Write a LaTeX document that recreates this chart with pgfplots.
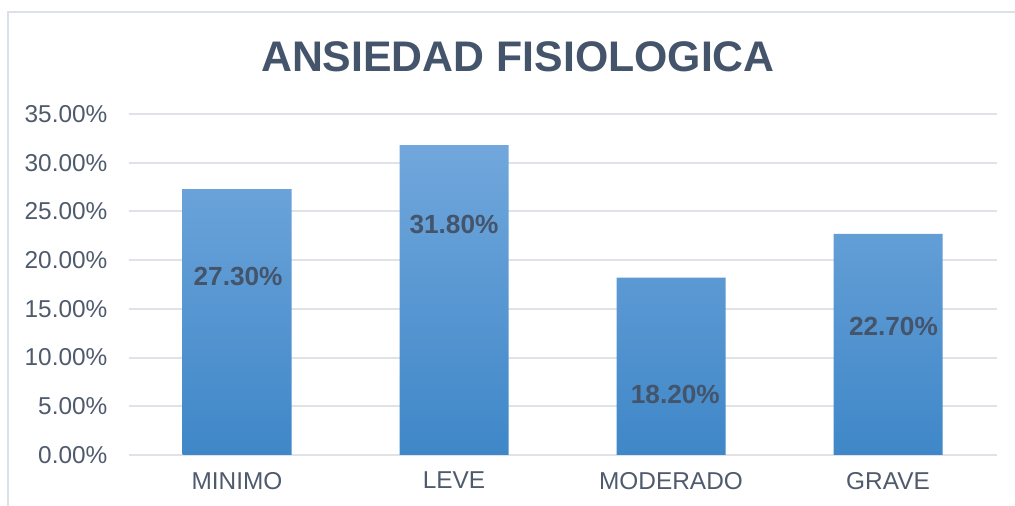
\documentclass[border=0pt]{standalone}
\usepackage{fontspec}
\setmainfont{Liberation Sans}
\usepackage{pgfplots}
\pgfplotsset{compat=1.18}
\definecolor{titlec}{HTML}{44546A}
\definecolor{tickc}{HTML}{4F5B6D}
\definecolor{gridc}{HTML}{DFE3E8}
\definecolor{frame}{HTML}{DCE1E7}
\definecolor{bartop}{HTML}{71A7DC}
\definecolor{barbot}{HTML}{3F87C8}
\begin{document}
\begin{tikzpicture}
\path[use as bounding box] (0,0) rectangle (507.5pt,253pt);
\draw[frame, line width=1pt] (515pt,247pt) -- (4pt,247pt) -- (4pt,-5pt);
\node[font=\fontsize{21.4pt}{24pt}\selectfont\bfseries, text=titlec] at (259pt,224.5pt) {ANSIEDAD FISIOLOGICA};
\begin{axis}[
  at={(64.25pt,25.5pt)}, anchor=south west,
  scale only axis, width=434pt, height=170.5pt,
  xmin=-0.5, xmax=3.5, ymin=0, ymax=35,
  axis line style={draw=none},
  ytick={0,5,10,15,20,25,30,35},
  yticklabels={0.00\%,5.00\%,10.00\%,15.00\%,20.00\%,25.00\%,30.00\%,35.00\%},
  xtick={0,1,2,3},
  xticklabels={MINIMO,LEVE,MODERADO,GRAVE},
  ymajorgrids, grid style={gridc, line width=1pt},
  major tick length=0pt,
  tick style={draw=none},
  tick label style={font=\fontsize{12.2pt}{14pt}\selectfont, text=tickc},
  yticklabel style={xshift=-7pt},
  xticklabel style={yshift=-5pt},
  clip=false,
]
\addplot[ybar, bar width=54.5pt, draw=none, top color=bartop, bottom color=barbot, bar shift=0pt]
  coordinates {(0,27.3) (1,31.8) (2,18.2) (3,22.7)};
\begin{scope}[every node/.style={font=\fontsize{13.1pt}{15pt}\selectfont\bfseries, text=titlec}]
\node at (axis cs:0.005,18.27) {27.30\%};
\node at (axis cs:1.0,23.7) {31.80\%};
\node at (axis cs:2.02,6.16) {18.20\%};
\node at (axis cs:3.025,13.24) {22.70\%};
\end{scope}
\end{axis}
\end{tikzpicture}
\end{document}
